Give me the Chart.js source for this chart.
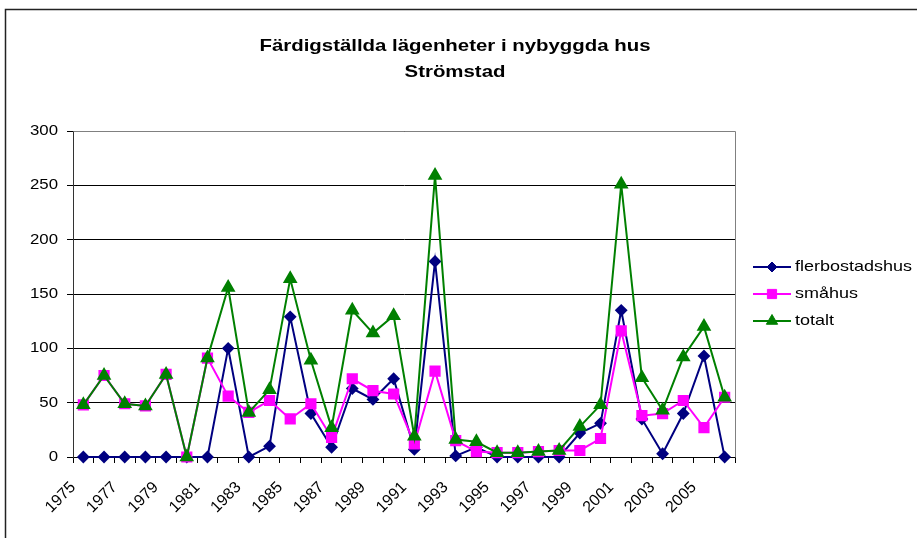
<!DOCTYPE html>
<html>
<head>
<meta charset="utf-8">
<script src="https://cdn.jsdelivr.net/npm/chart.js@4/dist/chart.umd.min.js"></script>
<style>
  html, body { margin: 0; padding: 0; background: #fff; }
  #wrap { width: 917px; height: 538px; }
</style>
</head>
<body>
<div id="wrap"><canvas id="c" width="917" height="538"></canvas></div>
<script>
// Completed dwellings in newly built houses, Strömstad, 1975–2006
const years = ['1975','1976','1977','1978','1979','1980','1981','1982','1983','1984',
               '1985','1986','1987','1988','1989','1990','1991','1992','1993','1994',
               '1995','1996','1997','1998','1999','2000','2001','2002','2003','2004',
               '2005','2006'];

const flerbostadshus = [0,0,0,0,0,0,0,100,0,10,129,40,9,63,53,72,7,180,1,9,0,0,0,0,22,31,135,35,3,40,93,0];
const smahus         = [48,75,49,47,76,0,91,56,41,52,35,49,18,72,61,58,12,79,15,5,4,4,5,6,6,17,116,38,40,52,27,55];
const totalt         = [48,75,49,47,76,0,91,156,41,62,164,89,27,135,114,130,19,259,16,14,4,4,5,6,28,48,251,73,43,92,120,55];

const seriesNames = ['flerbostadshus', 'småhus', 'totalt'];
const titleLines = ['Färdigställda lägenheter i nybyggda hus', 'Strömstad'];
const yTickValues = [0, 50, 100, 150, 200, 250, 300];

// Horizontal text is drawn slightly widened to match the chart's wide lettering
const STRETCH = 1.2;
const FONT = "'Liberation Sans', Arial, sans-serif";

function drawText(ctx, text, x, y, font, align, baseline, sx, angle) {
  ctx.save();
  ctx.translate(x, y);
  ctx.scale(sx, 1);
  if (angle) ctx.rotate(angle);
  ctx.font = font;
  ctx.textAlign = align;
  ctx.textBaseline = baseline;
  ctx.fillStyle = '#000';
  ctx.fillText(text, 0, 0);
  ctx.restore();
}

const decor = {
  id: 'decor',
  beforeDraw(chart) {
    const ctx = chart.ctx;
    ctx.save();
    ctx.fillStyle = '#fff';
    ctx.fillRect(0, 0, chart.width, chart.height);
    // outer chart frame
    ctx.strokeStyle = '#222';
    ctx.lineWidth = 1.5;
    ctx.strokeRect(5.5, 9.5, 960, 600);
    ctx.restore();
  },
  afterDatasetsDraw(chart) {
    // plot area border (top and right)
    const a = chart.chartArea, ctx = chart.ctx;
    ctx.save();
    ctx.strokeStyle = '#808080';
    ctx.lineWidth = 1;
    ctx.beginPath();
    ctx.moveTo(Math.round(a.left) + 0.5, Math.round(a.top) + 0.5);
    ctx.lineTo(Math.round(a.right) + 0.5, Math.round(a.top) + 0.5);
    ctx.lineTo(Math.round(a.right) + 0.5, Math.round(a.bottom) + 0.5);
    ctx.stroke();
    ctx.restore();
  },
  afterDraw(chart) {
    const ctx = chart.ctx;
    const xs = chart.scales.x, ys = chart.scales.y;

    // title
    drawText(ctx, titleLines[0], 455, 46, "bold 17px " + FONT, 'center', 'middle', STRETCH);
    drawText(ctx, titleLines[1], 455, 72, "bold 17px " + FONT, 'center', 'middle', STRETCH);

    // y tick labels
    yTickValues.forEach(v => {
      drawText(ctx, String(v), 58, ys.getPixelForValue(v), "14px " + FONT, 'right', 'middle', STRETCH);
    });

    // x tick labels, every second year, slanted 45°
    years.forEach((lab, i) => {
      if (i % 2 !== 0) return;
      const x = xs.getPixelForValue(i);
      drawText(ctx, lab, x - 7, 488, "16px " + FONT, 'right', 'alphabetic', 1, -Math.PI / 4);
    });

    // legend
    const rows = [267, 294, 321];
    chart.data.datasets.forEach((ds, i) => {
      const y = rows[i];
      ctx.save();
      ctx.strokeStyle = ds.borderColor;
      ctx.lineWidth = 2;
      ctx.beginPath();
      ctx.moveTo(753, y);
      ctx.lineTo(791, y);
      ctx.stroke();
      ctx.fillStyle = ds.pointBackgroundColor;
      ctx.strokeStyle = ds.pointBorderColor;
      ctx.lineWidth = 1;
      Chart.helpers.drawPoint(ctx, { pointStyle: ds.pointStyle, radius: ds.pointRadius, rotation: 0, borderWidth: 1 }, 772, y);
      ctx.restore();
      drawText(ctx, seriesNames[i], 795, y, "15px " + FONT, 'left', 'middle', STRETCH);
    });
  }
};

new Chart(document.getElementById('c'), {
  type: 'line',
  data: {
    labels: years,
    datasets: [
      {
        label: seriesNames[0], data: flerbostadshus, order: 2,
        borderColor: '#000080', backgroundColor: '#000080',
        pointBackgroundColor: '#000080', pointBorderColor: '#000080',
        pointStyle: 'rectRot', pointRadius: 5, borderWidth: 2, tension: 0, clip: false
      },
      {
        label: seriesNames[1], data: smahus, order: 1,
        borderColor: '#FF00FF', backgroundColor: '#FF00FF',
        pointBackgroundColor: '#FF00FF', pointBorderColor: '#FF00FF',
        pointStyle: 'rect', pointRadius: 6.5, borderWidth: 2, tension: 0, clip: false
      },
      {
        label: seriesNames[2], data: totalt, order: 0,
        borderColor: '#008000', backgroundColor: '#008000',
        pointBackgroundColor: '#008000', pointBorderColor: '#008000',
        pointStyle: 'triangle', pointRadius: 6.5, borderWidth: 2, tension: 0, clip: false
      }
    ]
  },
  options: {
    responsive: false,
    animation: false,
    devicePixelRatio: 1,
    layout: { autoPadding: false, padding: { left: 0, right: 182, top: 131, bottom: 0 } },
    plugins: {
      legend: { display: false },
      title: { display: false },
      tooltip: { enabled: false }
    },
    scales: {
      x: {
        type: 'category',
        offset: true,
        grid: { offset: true, drawOnChartArea: false, drawTicks: true, tickLength: 6, color: '#000' },
        border: { color: '#000', width: 1 },
        ticks: { display: false },
        afterFit(s) { s.height = 81; }
      },
      y: {
        min: 0, max: 300,
        ticks: { stepSize: 50, display: false },
        grid: { color: '#000', tickLength: 6, lineWidth: 1 },
        border: { color: '#333', width: 1 },
        afterFit(s) { s.width = 73; }
      }
    }
  },
  plugins: [decor]
});
</script>
</body>
</html>
